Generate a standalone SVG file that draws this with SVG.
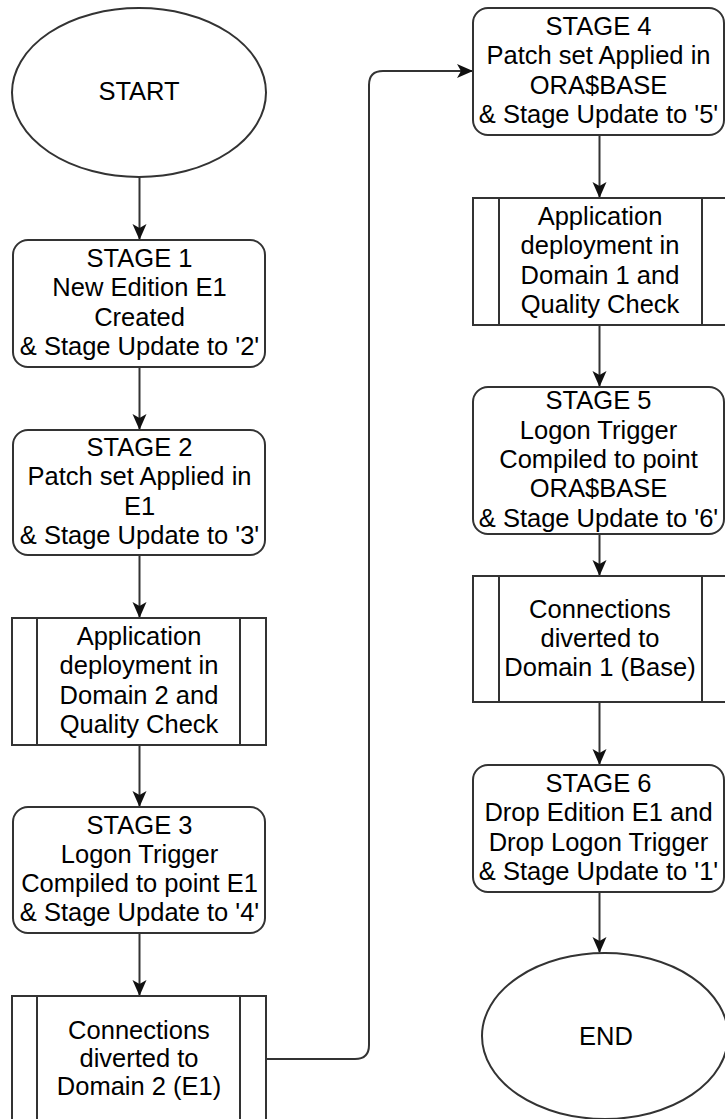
<svg xmlns="http://www.w3.org/2000/svg" width="725" height="1119" viewBox="0 0 725 1119">
<style>
.shape{fill:#fff;stroke:#333;stroke-width:2}
.inner{stroke:#333;stroke-width:2;fill:none}
.conn{fill:none;stroke:#333;stroke-width:2}
text{font-family:"Liberation Sans",Arial,sans-serif;font-size:25.5px;fill:#000;text-anchor:middle}
</style>
<defs>
<marker id="arr" viewBox="0 0 16 16" refX="15" refY="8" markerWidth="16" markerHeight="16" markerUnits="userSpaceOnUse" orient="auto">
<path d="M0,1 L16,8 L0,15 L4,8 z" fill="#111"/>
</marker>
</defs>
<rect width="725" height="1119" fill="#fff"/>
<g id="connectors">
<path class="conn" d="M139.5,177 V239" marker-end="url(#arr)"/>
<path class="conn" d="M139.5,367 V429" marker-end="url(#arr)"/>
<path class="conn" d="M139.5,555 V617" marker-end="url(#arr)"/>
<path class="conn" d="M139.5,745 V806" marker-end="url(#arr)"/>
<path class="conn" d="M139.5,933 V995" marker-end="url(#arr)"/>
<path class="conn" d="M267,1059 H355 Q369,1059 369,1045 V85 Q369,71 383,71 H472" marker-end="url(#arr)"/>
<path class="conn" d="M599.5,135 V197" marker-end="url(#arr)"/>
<path class="conn" d="M599.5,325 V386" marker-end="url(#arr)"/>
<path class="conn" d="M599.5,534 V575" marker-end="url(#arr)"/>
<path class="conn" d="M599.5,702 V764" marker-end="url(#arr)"/>
<path class="conn" d="M599.5,892 V952" marker-end="url(#arr)"/>
</g>
<g id="start">
<ellipse class="shape" cx="139" cy="92.5" rx="127" ry="84.5"/>
<text x="139" y="100">START</text>
</g>
<g id="stage1">
<rect class="shape" x="13" y="240" width="252" height="127" rx="15"/>
<text x="139.5" y="267">STAGE 1</text>
<text x="139.5" y="296.3">New Edition E1</text>
<text x="139.5" y="325.6">Created</text>
<text x="139.5" y="354.9">&amp; Stage Update to '2'</text>
</g>
<g id="stage2">
<rect class="shape" x="13" y="430" width="252" height="125" rx="15"/>
<text x="139.5" y="456">STAGE 2</text>
<text x="139.5" y="485.3">Patch set Applied in</text>
<text x="139.5" y="514.6">E1</text>
<text x="139.5" y="543.9">&amp; Stage Update to '3'</text>
</g>
<g id="deploy2">
<rect class="shape" x="12" y="618" width="254" height="127"/>
<line class="inner" x1="37" y1="618" x2="37" y2="745"/>
<line class="inner" x1="240" y1="618" x2="240" y2="745"/>
<text x="139" y="645">Application</text>
<text x="139" y="674.3">deployment in</text>
<text x="139" y="703.6">Domain 2 and</text>
<text x="139" y="732.9">Quality Check</text>
</g>
<g id="stage3">
<rect class="shape" x="13" y="807" width="252" height="126" rx="15"/>
<text x="139.5" y="833.5">STAGE 3</text>
<text x="139.5" y="862.8">Logon Trigger</text>
<text x="139.5" y="892.1">Compiled to point E1</text>
<text x="139.5" y="921.4">&amp; Stage Update to '4'</text>
</g>
<g id="divert2">
<rect class="shape" x="12" y="996" width="254" height="130"/>
<line class="inner" x1="37" y1="996" x2="37" y2="1126"/>
<line class="inner" x1="240" y1="996" x2="240" y2="1126"/>
<text x="139" y="1039">Connections</text>
<text x="139" y="1067">diverted to</text>
<text x="139" y="1095">Domain 2 (E1)</text>
</g>
<g id="stage4">
<rect class="shape" x="473" y="8" width="251" height="127" rx="15"/>
<text x="598.5" y="35">STAGE 4</text>
<text x="598.5" y="64.3">Patch set Applied in</text>
<text x="598.5" y="93.6">ORA$BASE</text>
<text x="598.5" y="122.9">&amp; Stage Update to '5'</text>
</g>
<g id="deploy1">
<rect class="shape" x="473" y="198" width="254" height="127"/>
<line class="inner" x1="499" y1="198" x2="499" y2="325"/>
<line class="inner" x1="702" y1="198" x2="702" y2="325"/>
<text x="600" y="225">Application</text>
<text x="600" y="254.3">deployment in</text>
<text x="600" y="283.6">Domain 1 and</text>
<text x="600" y="312.9">Quality Check</text>
</g>
<g id="stage5">
<rect class="shape" x="473" y="387" width="251" height="147" rx="15"/>
<text x="598.5" y="409.4">STAGE 5</text>
<text x="598.5" y="438.7">Logon Trigger</text>
<text x="598.5" y="468">Compiled to point</text>
<text x="598.5" y="497.3">ORA$BASE</text>
<text x="598.5" y="526.6">&amp; Stage Update to '6'</text>
</g>
<g id="divert1">
<rect class="shape" x="473" y="576" width="254" height="126"/>
<line class="inner" x1="499" y1="576" x2="499" y2="702"/>
<line class="inner" x1="702" y1="576" x2="702" y2="702"/>
<text x="600" y="618">Connections</text>
<text x="600" y="647">diverted to</text>
<text x="600" y="676">Domain 1 (Base)</text>
</g>
<g id="stage6">
<rect class="shape" x="473" y="765" width="251" height="127" rx="15"/>
<text x="598.5" y="792">STAGE 6</text>
<text x="598.5" y="821.3">Drop Edition E1 and</text>
<text x="598.5" y="850.6">Drop Logon Trigger</text>
<text x="598.5" y="879.9">&amp; Stage Update to '1'</text>
</g>
<g id="end">
<ellipse class="shape" cx="605" cy="1036" rx="123" ry="83"/>
<text x="606" y="1045">END</text>
</g>
</svg>
